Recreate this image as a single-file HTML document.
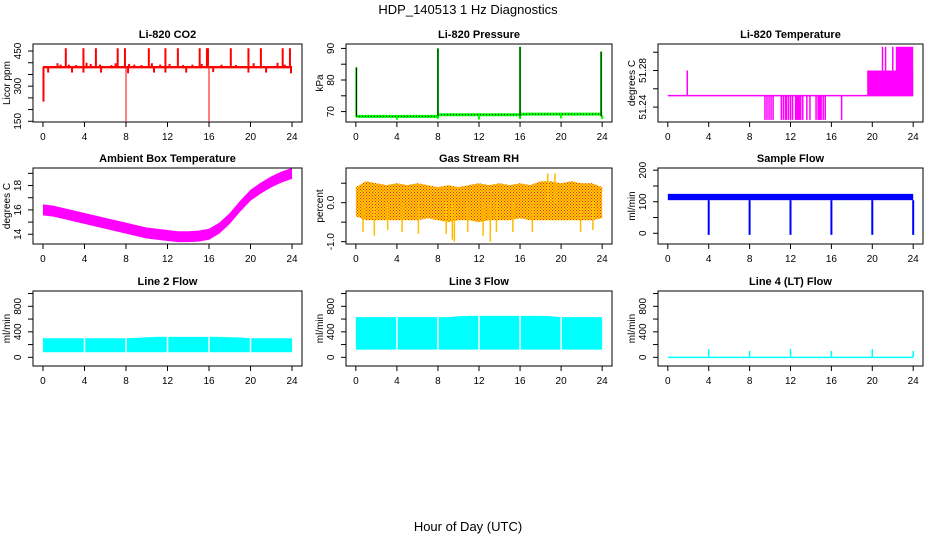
<!DOCTYPE html>
<html><head><meta charset="utf-8"><style>
html,body{margin:0;padding:0;background:#fff}
svg{display:block;font-family:"Liberation Sans",sans-serif}
</style></head><body>
<svg id="c" width="936" height="540" xmlns="http://www.w3.org/2000/svg">
<text x="468" y="14" text-anchor="middle" font-size="13">HDP_140513  1 Hz Diagnostics</text>
<text x="468" y="531" text-anchor="middle" font-size="13">Hour of Day (UTC)</text>
</svg>
<script>
const hours = [0,1,2,3,4,5,6,7,8,9,10,11,12,13,14,15,16,17,18,19,20,21,22,23,24];
const xTicks = [0,4,8,12,16,20,24];
// CO2
const co2Base = 381;
const co2UpSpikes = [2.2,3.9,5.1,7.2,7.9,10.2,11.8,13.0,15.1,15.8,15.9,18.1,19.8,21.0,23.1,23.8];
const co2UpValues = [462,462,462,462,462,462,462,462,462,462,462,462,462,462,462,462];
const co2SmallUp = [1.4,1.7,2.5,3.2,4.2,4.6,5.5,6.6,7.0,8.3,8.8,9.5,10.5,11.3,12.2,13.5,14.4,15.3,17.2,18.6,20.3,22.6,23.3];
const co2SmallUpValues = [398,392,392,390,400,395,392,390,398,395,392,390,398,392,395,390,392,395,392,390,398,400,392];
const co2Dips = [0.05,0.5,2.8,3.9,5.6,8.2,10.7,11.8,13.8,16.4,19.8,21.5,23.9];
const co2DipValues = [234,358,358,358,358,355,358,358,358,360,358,358,355];
const co2DeepDips = [8.0,16.0];
const co2DeepValues = [150,150];
// Pressure
const presBaseHours = [0,8,16,24];
const presBaseValues = [68.5,69.0,69.2,69.2];
const presSpikes = [0.05,8.0,16.0,23.9];
const presSpikeValues = [84,90,90.5,89];
const presDips = [4,8,12,16,20,24];
const presDipValues = [67.4,67.6,67.5,67.6,67.8,67.6];
// Li-820 temperature
const ltBase = 51.2525;
const ltDownHours = [9.5,9.7,9.9,10.1,10.3,11.1,11.3,11.5,11.6,11.8,12.0,12.2,12.5,12.6,12.7,12.8,12.9,13.0,13.2,13.6,13.9,14.5,14.7,14.8,14.9,15.0,15.2,15.4,17.0];
const ltDownValue = 51.226;
const ltUpHours = [1.9,21.0,21.3,22.0];
const ltUpValues = [51.28,51.306,51.306,51.306];
const ltBlock1 = [19.5,24,51.28];
const ltBlock2 = [22.3,24,51.306];
// Ambient temperature (hourly centre)
const ambValues = [16.0,15.9,15.7,15.5,15.3,15.1,14.9,14.7,14.5,14.3,14.1,14.0,13.9,13.8,13.8,13.85,14.0,14.5,15.3,16.3,17.2,17.8,18.3,18.7,19.0];
const ambHalfWidth = 0.45;
// RH
const rhHigh = [0.4,0.55,0.5,0.45,0.5,0.45,0.5,0.45,0.4,0.45,0.4,0.45,0.5,0.45,0.5,0.45,0.5,0.45,0.55,0.55,0.5,0.55,0.5,0.5,0.4];
const rhLow = [-0.35,-0.45,-0.45,-0.45,-0.45,-0.45,-0.45,-0.4,-0.45,-0.5,-0.45,-0.45,-0.5,-0.45,-0.45,-0.45,-0.4,-0.45,-0.45,-0.45,-0.45,-0.45,-0.45,-0.45,-0.4];
const rhSpikeHours = [0.7,1.8,3.1,4.5,6.1,8.8,9.4,9.6,10.9,12.4,13.1,13.7,15.3,17.2,18.7,19.4,21.9,23.1];
const rhSpikeValues = [-0.75,-0.85,-0.7,-0.75,-0.8,-0.8,-0.95,-1.0,-0.75,-0.85,-1.0,-0.75,-0.75,-0.75,0.75,0.75,-0.75,-0.7];
// Sample flow
const sfLow = 105, sfHigh = 125;
const sfDips = [4,8,12,16,20,24];
const sfDipValues = [-5,-5,-5,-5,-5,-5];
// Line 2/3/4
const l2High = [300,300,300,300,300,300,300,300,300,305,315,320,320,320,320,320,320,320,315,310,300,300,300,300,300];
const l2Low = 80;
const l3High = [630,630,630,630,630,630,630,630,630,630,645,650,650,650,650,650,650,650,650,645,630,630,630,630,630];
const l3Low = 120;
const l4Spikes = [4,8,12,16,20,24];
const l4SpikeValues = [130,100,130,100,130,100];
const flowGaps = [4,8,12,16,20];

const svg = document.getElementById('c');
const NS = 'http://www.w3.org/2000/svg';
function mk(tag, attrs, parent, name){
  const el = document.createElementNS(NS, tag);
  for (const k in attrs) el.setAttribute(k, attrs[k]);
  
  
  (parent || svg).appendChild(el);
  return el;
}
function panel(o){
  const g = mk('g', {}, svg, o.name);
  const pad = (24)*0.04;
  const X = h => o.x0 + (h + pad) / (24 + 2*pad) * (o.x1 - o.x0);
  const Y = v => o.y1 - (v - o.ymin) / (o.ymax - o.ymin) * (o.y1 - o.y0);
  mk('text', {x:(o.x0+o.x1)/2, y:o.y0-6, 'text-anchor':'middle', 'font-size':'11', 'font-weight':'bold'}, g, 'panel-title').textContent = o.title;
  xTicks.forEach(t => {
    mk('line', {x1:X(t), x2:X(t), y1:o.y1, y2:o.y1+5, stroke:'#000'}, g, 'x-tick');
    mk('text', {x:X(t), y:o.y1+18, 'text-anchor':'middle', 'font-size':'10'}, g, 'x-tick-label').textContent = t;
  });
  o.yTicks.forEach(t => {
    mk('line', {x1:o.x0-5, x2:o.x0, y1:Y(t), y2:Y(t), stroke:'#000'}, g, 'y-tick');
  });
  o.yLabels.forEach(t => {
    const tx = mk('text', {x:0, y:0, 'text-anchor':'middle', 'font-size':'10', transform:`translate(${o.x0-12},${Y(t[0])}) rotate(-90)`}, g, 'y-tick-label');
    tx.textContent = t[1];
  });
  mk('text', {x:0, y:0, 'text-anchor':'middle', 'font-size':'10', transform:`translate(${o.x0-23},${(o.y0+o.y1)/2}) rotate(-90)`}, g, 'y-axis-title').textContent = o.ylab;
  const clip = 'clip' + o.name;
  const cp = mk('clipPath', {id:clip}, g, 'plot-clip');
  mk('rect', {x:o.x0, y:o.y0, width:o.x1-o.x0, height:o.y1-o.y0}, cp, 'plot-clip-rect');
  const d = mk('g', {'clip-path':`url(#${clip})`}, g, 'plot-area');
  o.draw(d, X, Y);
  mk('rect', {x:o.x0, y:o.y0, width:o.x1-o.x0, height:o.y1-o.y0, fill:'none', stroke:'#000'}, g, 'plot-box');
}
function vline(p, X, Y, h, a, b, col, w, name){ mk('line', {x1:X(h), x2:X(h), y1:Y(a), y2:Y(b), stroke:col, 'stroke-width':w||1}, p, name); }
function band(p, X, Y, hi, lo, fill, name){
  let pts = hours.map((h,i)=>`${X(h)},${Y(hi[i])}`);
  pts = pts.concat(hours.slice().reverse().map((h,j)=>`${X(h)},${Y(lo[hours.length-1-j])}`));
  mk('polygon', {points:pts.join(' '), fill:fill}, p, name);
}
const C = [33,302], M = [346,612], R = [658,923];
const R1 = [44,122], R2 = [168,244], R3 = [291,366];

panel({name:'co2-panel', title:'Li-820 CO2', ylab:'Licor ppm', x0:C[0], x1:C[1], y0:R1[0], y1:R1[1], ymin:147, ymax:480,
  yTicks:[150,200,250,300,350,400,450], yLabels:[[150,'150'],[300,'300'],[450,'450']],
  draw:(p,X,Y)=>{
    mk('rect',{x:X(0),y:Y(co2Base+5),width:X(24)-X(0),height:Y(co2Base-5)-Y(co2Base+5),fill:'#f00'},p,'co2-baseline');
    co2UpSpikes.forEach((h,i)=>vline(p,X,Y,h,co2Base,co2UpValues[i],'#f00',2,'co2-spike'));
    co2SmallUp.forEach((h,i)=>vline(p,X,Y,h,co2Base,co2SmallUpValues[i],'#f00',2,'co2-small-spike'));
    co2Dips.forEach((h,i)=>vline(p,X,Y,h,co2Base,co2DipValues[i],'#f00',2,'co2-dip'));
    co2DeepDips.forEach((h,i)=>vline(p,X,Y,h,co2Base,co2DeepValues[i],'#f00',1,'co2-deep-dip'));
  }});
panel({name:'pressure-panel', title:'Li-820 Pressure', ylab:'kPa', x0:M[0], x1:M[1], y0:R1[0], y1:R1[1], ymin:66.7, ymax:91.4,
  yTicks:[70,75,80,85,90], yLabels:[[70,'70'],[80,'80'],[90,'90']],
  draw:(p,X,Y)=>{
    for(let i=0;i<presBaseHours.length-1;i++){
      mk('line',{x1:X(presBaseHours[i]),x2:X(presBaseHours[i+1]),y1:Y(presBaseValues[i]),y2:Y(presBaseValues[i]),stroke:'#0f0','stroke-width':3},p,'pressure-line');
      mk('line',{x1:X(presBaseHours[i]),x2:X(presBaseHours[i+1]),y1:Y(presBaseValues[i]),y2:Y(presBaseValues[i]),stroke:'#000','stroke-width':1,'stroke-dasharray':'1,2'},p,'pressure-dots');
    }
    presDips.forEach((h,i)=>vline(p,X,Y,h,68.8,presDipValues[i],'#0f0',2,'pressure-dip'));
    presSpikes.forEach((h,i)=>{vline(p,X,Y,h,68.5,presSpikeValues[i],'#0f0',2,'pressure-spike');vline(p,X,Y,h,68.5,presSpikeValues[i],'#000',1,'pressure-spike-dots');});
  }});
panel({name:'li820-temperature-panel', title:'Li-820 Temperature', ylab:'degrees C', x0:R[0], x1:R[1], y0:R1[0], y1:R1[1], ymin:51.2237, ymax:51.309,
  yTicks:[51.24,51.26,51.28,51.30], yLabels:[[51.24,'51.24'],[51.28,'51.28']],
  draw:(p,X,Y)=>{
    mk('line',{x1:X(0),x2:X(24),y1:Y(ltBase),y2:Y(ltBase),stroke:'#f0f','stroke-width':1.5},p,'temp-baseline');
    mk('rect',{x:X(ltBlock1[0]),y:Y(ltBlock1[2]),width:X(ltBlock1[1])-X(ltBlock1[0]),height:Y(ltBase)-Y(ltBlock1[2]),fill:'#f0f'},p,'temp-block');
    mk('rect',{x:X(ltBlock2[0]),y:Y(ltBlock2[2]),width:X(ltBlock2[1])-X(ltBlock2[0]),height:Y(ltBase)-Y(ltBlock2[2]),fill:'#f0f'},p,'temp-block-high');
    ltDownHours.forEach(h=>vline(p,X,Y,h,ltBase,ltDownValue,'#f0f',1.5,'temp-down'));
    ltUpHours.forEach((h,i)=>vline(p,X,Y,h,ltBase,ltUpValues[i],'#f0f',1.5,'temp-up'));
  }});
panel({name:'ambient-temperature-panel', title:'Ambient Box Temperature', ylab:'degrees C', x0:C[0], x1:C[1], y0:R2[0], y1:R2[1], ymin:13.2, ymax:19.44,
  yTicks:[14,15,16,17,18,19], yLabels:[[14,'14'],[16,'16'],[18,'18']],
  draw:(p,X,Y)=>{
    band(p,X,Y,ambValues.map(v=>v+ambHalfWidth),ambValues.map(v=>v-ambHalfWidth),'#f0f','ambient-band');
  }});
panel({name:'rh-panel', title:'Gas Stream RH', ylab:'percent', x0:M[0], x1:M[1], y0:R2[0], y1:R2[1], ymin:-1.06, ymax:0.89,
  yTicks:[-1,-0.5,0,0.5], yLabels:[[-1,'-1.0'],[0,'0.0']],
  draw:(p,X,Y)=>{
    const pat = mk('pattern',{id:'chk',width:3,height:3,patternUnits:'userSpaceOnUse'},p,'rh-pattern');
    mk('rect',{x:0,y:0,width:3,height:3,fill:'#fc0'},pat,'rh-pattern-bg');
    mk('rect',{x:0,y:0,width:1,height:1,fill:'#e22'},pat,'rh-pattern-a');
    mk('rect',{x:1.5,y:1.5,width:1,height:1,fill:'#e22'},pat,'rh-pattern-b');
    band(p,X,Y,rhHigh,rhLow,'url(#chk)','rh-band');
    rhSpikeHours.forEach((h,i)=>vline(p,X,Y,h,0,rhSpikeValues[i],'#fb0',1.5,'rh-spike'));
  }});
panel({name:'sample-flow-panel', title:'Sample Flow', ylab:'ml/min', x0:R[0], x1:R[1], y0:R2[0], y1:R2[1], ymin:-34, ymax:207,
  yTicks:[0,50,100,150,200], yLabels:[[0,'0'],[100,'100'],[200,'200']],
  draw:(p,X,Y)=>{
    mk('rect',{x:X(0),y:Y(sfHigh),width:X(24)-X(0),height:Y(sfLow)-Y(sfHigh),fill:'#00f'},p,'sample-flow-band');
    sfDips.forEach((h,i)=>vline(p,X,Y,h,sfLow,sfDipValues[i],'#00f',2,'sample-flow-dip'));
  }});
function flowPanel(name,title,cols,hi,lo){
  panel({name:name, title:title, ylab:'ml/min', x0:cols[0], x1:cols[1], y0:R3[0], y1:R3[1], ymin:-136, ymax:1040,
    yTicks:[0,200,400,600,800,1000], yLabels:[[0,'0'],[400,'400'],[800,'800']],
    draw:(p,X,Y)=>{
      band(p,X,Y,hi,hours.map(()=>lo),'#0ff',name+'-band');
      flowGaps.forEach(h=>vline(p,X,Y,h,lo-5,hi[h]+5,'#fff',1.5,'flow-gap'));
    }});
}
flowPanel('line2-flow-panel','Line 2 Flow',C,l2High,l2Low);
flowPanel('line3-flow-panel','Line 3 Flow',M,l3High,l3Low);
panel({name:'line4-flow-panel', title:'Line 4 (LT) Flow', ylab:'ml/min', x0:R[0], x1:R[1], y0:R3[0], y1:R3[1], ymin:-136, ymax:1040,
  yTicks:[0,200,400,600,800,1000], yLabels:[[0,'0'],[400,'400'],[800,'800']],
  draw:(p,X,Y)=>{
    mk('line',{x1:X(0),x2:X(24),y1:Y(0),y2:Y(0),stroke:'#0ff','stroke-width':1.5},p,'line4-baseline');
    l4Spikes.forEach((h,i)=>vline(p,X,Y,h,0,l4SpikeValues[i],'#0ff',1.5,'line4-spike'));
  }});
</script>
</body></html>
